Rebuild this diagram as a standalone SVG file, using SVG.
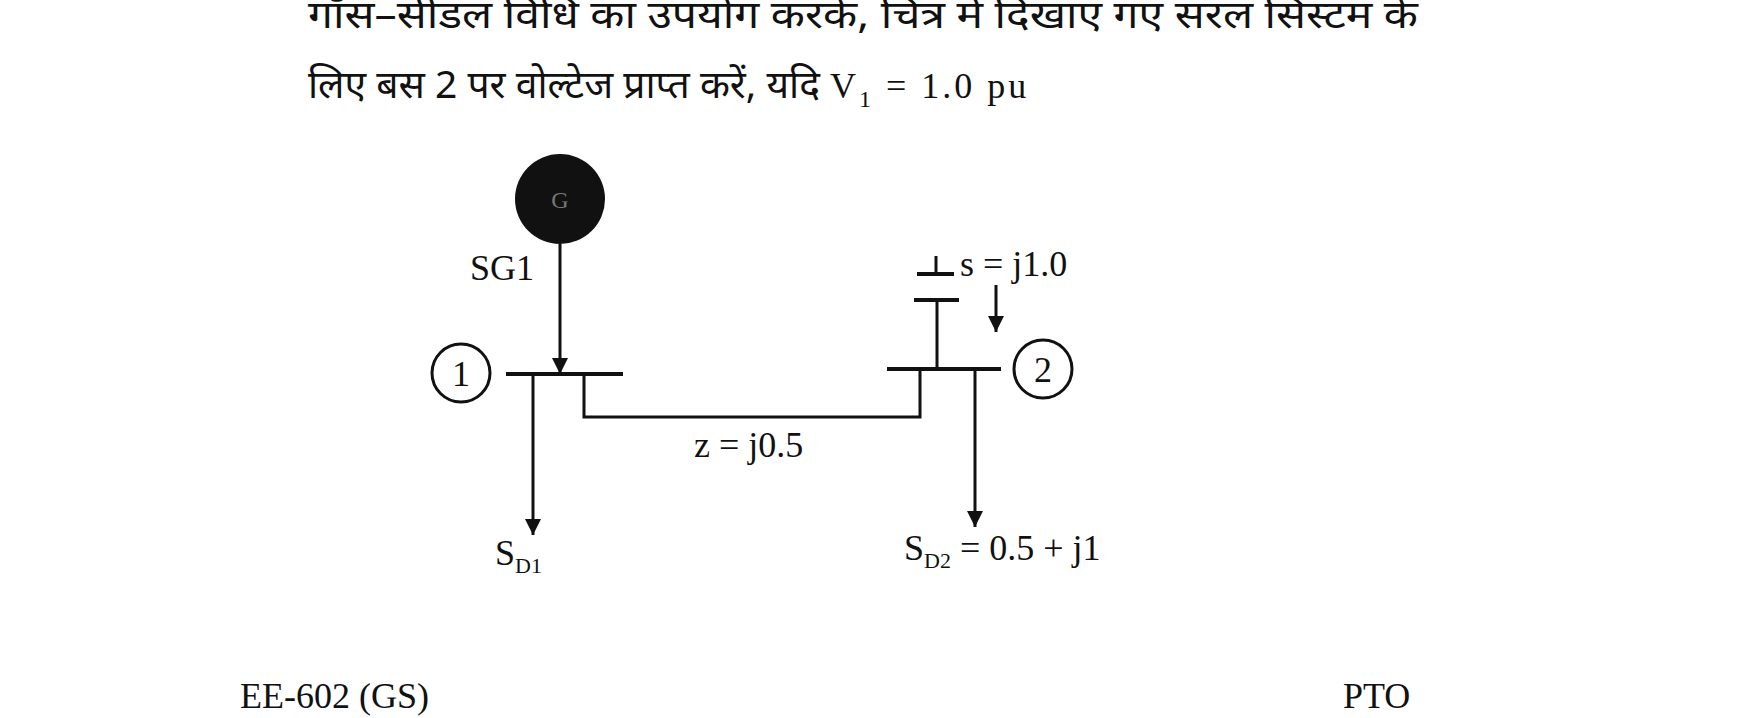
<svg xmlns="http://www.w3.org/2000/svg" width="1754" height="718" viewBox="0 0 1754 718">
<style>
.t{font-family:"Liberation Serif","Noto Sans CJK SC",serif;font-size:36px;fill:#111}
.h{font-family:"Noto Sans","Liberation Serif",sans-serif;font-size:39px;fill:#111}
.l{stroke:#111;stroke-width:3;fill:none}
.b{stroke:#111;stroke-width:4;fill:none}
</style>
<defs><marker id="A" viewBox="0 0 10 10" refX="10" refY="5" markerWidth="22" markerHeight="16" markerUnits="userSpaceOnUse" orient="auto"><path d="M0,0L10,5L0,10z" fill="#111"/></marker></defs>
<rect width="1754" height="718" fill="#fff"/>
<text class="h" x="308" y="28" textLength="1110" lengthAdjust="spacingAndGlyphs">गॉस–सीडल विधि का उपयोग करके, चित्र में दिखाए गए सरल सिस्टम के</text>
<text class="h" x="308" y="98">लिए बस 2 पर वोल्टेज प्राप्त करें, यदि <tspan class="t" font-size="42" letter-spacing="3">V<tspan font-size="24" dy="9">1</tspan><tspan dy="-9"> = 1.0 pu</tspan></tspan></text>
<g id="gen"><circle cx="560" cy="199" r="45" fill="#111"/><text x="560" y="208" text-anchor="middle" font-family="Liberation Serif,serif" font-size="24" fill="#777">G</text><text class="t" x="470" y="280">SG1</text></g>
<g id="bus1"><line class="b" x1="506" y1="374" x2="623" y2="374"/><circle cx="461" cy="373" r="29" fill="none" stroke="#111" stroke-width="3"/><text class="t" x="461" y="386" text-anchor="middle">1</text></g>
<g id="bus2"><line class="b" x1="887" y1="369" x2="1001" y2="369"/><circle cx="1043" cy="369" r="29" fill="none" stroke="#111" stroke-width="3"/><text class="t" x="1043" y="382" text-anchor="middle">2</text></g>
<g id="cap"><line class="l" x1="937" y1="369" x2="937" y2="300"/><line class="b" x1="914" y1="300" x2="959" y2="300"/><line class="b" x1="917" y1="274" x2="954" y2="274"/><line class="l" x1="936" y1="256" x2="936" y2="274"/><text class="t" x="960" y="276">s = j1.0</text></g>
<g id="labels"><text class="t" x="495" y="565">S<tspan font-size="22" dy="8">D1</tspan></text><text class="t" x="904" y="560">S<tspan font-size="22" dy="8">D2</tspan><tspan dy="-8"> = 0.5 + j1</tspan></text><text class="t" x="694" y="457">z = j0.5</text>
<text class="t" x="240" y="708" font-size="38">EE-602 (GS)</text><text class="t" x="1343" y="708" font-size="38">PTO</text></g>
<g id="connectors">
<line class="l" x1="560" y1="244" x2="560" y2="374" marker-end="url(#A)"/>
<line class="l" x1="533" y1="374" x2="533" y2="535" marker-end="url(#A)"/>
<polyline class="l" points="584,374 584,417 920,417 920,369"/>
<line class="l" x1="996" y1="285" x2="996" y2="332" marker-end="url(#A)"/>
<line class="l" x1="975" y1="369" x2="975" y2="527" marker-end="url(#A)"/>
</g>
</svg>
